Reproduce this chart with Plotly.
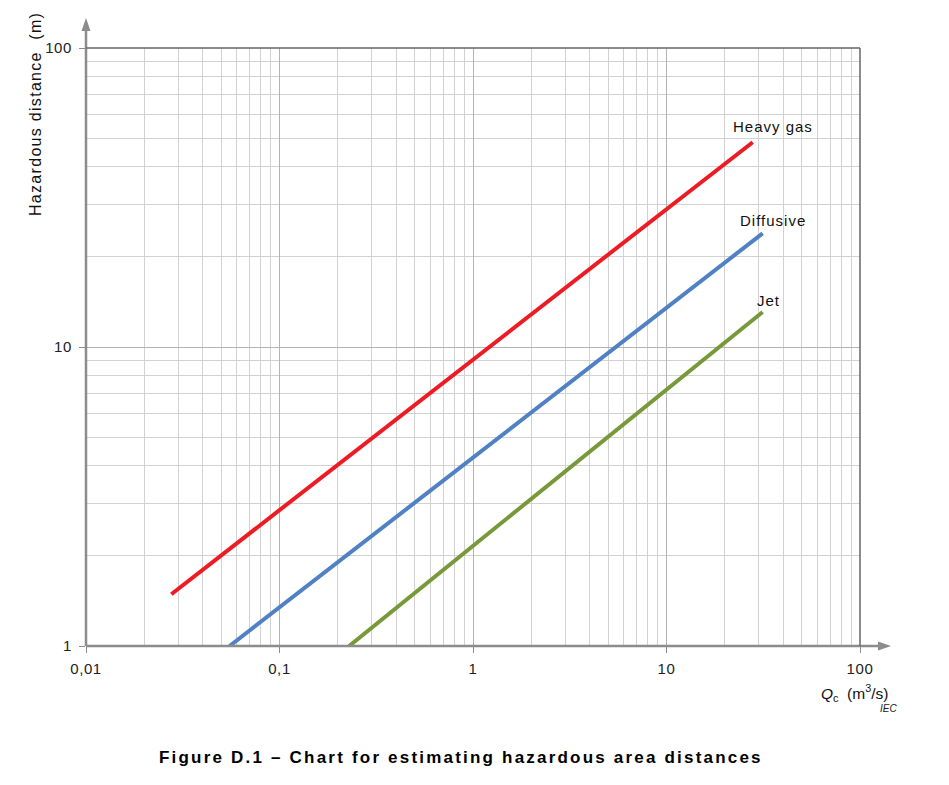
import math
import plotly.graph_objects as go

# ---- data ----
series_names = ["Heavy gas", "Diffusive", "Jet"]
heavy_q = [0.0276, 27.9]
heavy_d = [1.49, 48.4]
diff_q = [0.0552, 31.4]
diff_d = [1.0, 24.0]
jet_q = [0.229, 31.4]
jet_d = [1.0, 13.1]
colors = ["#ED1C24", "#4F81C4", "#77993A"]

x_tickvals = [0.01, 0.1, 1, 10, 100]
x_ticktext = ["0,01", "0,1", "1", "10", "100"]
y_tickvals = [1, 10, 100]
y_ticktext = ["1", "10", "100"]

def minor_vals(lo_exp, hi_exp):
    vals = []
    for e in range(lo_exp, hi_exp):
        for m in range(2, 10):
            vals.append(m * 10 ** e)
    return vals

def ls(text, sp):
    return f'<span style="letter-spacing:{sp}px">{text}</span>'

FONT = "Liberation Sans, Arial, sans-serif"

fig = go.Figure()
for name, xs, ys, c in zip(series_names, [heavy_q, diff_q, jet_q],
                           [heavy_d, diff_d, jet_d], colors):
    fig.add_trace(go.Scatter(x=xs, y=ys, mode="lines", name=name,
                             line=dict(color=c, width=4), showlegend=False,
                             cliponaxis=False))

# labels at line ends
label_shift = [(20, 16), (10, 13), (6, 11)]
for name, xs, ys, (dx, dy) in zip(series_names, [heavy_q, diff_q, jet_q],
                                  [heavy_d, diff_d, jet_d], label_shift):
    fig.add_annotation(x=math.log10(xs[-1]), y=math.log10(ys[-1]),
                       xref="x", yref="y", text=ls(name, 1), showarrow=False,
                       xanchor="center", yanchor="middle",
                       xshift=dx, yshift=dy,
                       font=dict(family=FONT, size=15, color="#111"))

W, H = 949, 785
ml, mr, mt, mb = 86, 89, 48, 139
pw, ph = W - ml - mr, H - mt - mb

def px(dx):
    return dx / pw

def py(dy):
    return dy / ph

axis_col = "#8c8c8c"
shapes = []
# x axis line + arrow
x_tip = px(891 - ml)
shapes.append(dict(type="line", xref="paper", yref="paper", x0=0, y0=0,
                   x1=x_tip - px(8), y1=0, line=dict(color=axis_col, width=2.5)))
shapes.append(dict(type="path", xref="paper", yref="paper",
                   path=f"M {x_tip} 0 L {x_tip - px(13)} {py(4.5)} L {x_tip - px(13)} {-py(4.5)} Z",
                   fillcolor=axis_col, line=dict(width=0)))
# y axis line + arrow
y_tip = py(646 - 18)
shapes.append(dict(type="line", xref="paper", yref="paper", x0=0, y0=0,
                   x1=0, y1=y_tip - py(8), line=dict(color=axis_col, width=2.5)))
shapes.append(dict(type="path", xref="paper", yref="paper",
                   path=f"M 0 {y_tip} L {px(4.5)} {y_tip - py(13)} L {-px(4.5)} {y_tip - py(13)} Z",
                   fillcolor=axis_col, line=dict(width=0)))
# top and right border
shapes.append(dict(type="line", xref="paper", yref="paper", x0=0, y0=1, x1=1, y1=1,
                   line=dict(color="#666", width=1.5)))
shapes.append(dict(type="line", xref="paper", yref="paper", x0=1, y0=0, x1=1, y1=1,
                   line=dict(color="#666", width=1.5)))

fig.add_annotation(xref="paper", yref="paper", x=px(35 - ml), y=py(646 - 114),
                   text=ls("Hazardous distance  (m)", 1.3), textangle=-90, showarrow=False,
                   xanchor="center", yanchor="middle",
                   font=dict(family=FONT, size=16, color="#111"))
fig.add_annotation(xref="paper", yref="paper", x=px(854 - ml), y=py(646 - 693),
                   text="<i>Q</i><sub>c</sub>  (m<sup>3</sup>/s)", showarrow=False,
                   xanchor="center", yanchor="middle",
                   font=dict(family=FONT, size=15.5, color="#111"))
fig.add_annotation(xref="paper", yref="paper", x=px(889 - ml), y=py(646 - 708),
                   text="<i>IEC</i>", showarrow=False,
                   xanchor="center", yanchor="middle",
                   font=dict(family=FONT, size=10, color="#222"))
fig.add_annotation(xref="paper", yref="paper", x=px(461 - ml), y=py(646 - 757),
                   text="<b>" + ls("Figure D.1 – Chart for estimating hazardous area distances", 2.2) + "</b>",
                   showarrow=False, xanchor="center", yanchor="middle",
                   font=dict(family=FONT, size=17, color="#000"))

tick_font = dict(family=FONT, size=15, color="#222")

fig.update_layout(
    width=W, height=H,
    margin=dict(l=ml, r=mr, t=mt, b=mb, pad=0),
    paper_bgcolor="white", plot_bgcolor="white",
    shapes=shapes,
    xaxis=dict(type="log", range=[-2, 2], tickmode="array",
               tickvals=x_tickvals, ticktext=[ls(t, 0.6) for t in x_ticktext],
               ticks="outside", ticklen=6, tickcolor=axis_col, tickwidth=1,
               ticklabelstandoff=3,
               showgrid=True, gridcolor="#b4b4b4", gridwidth=1,
               minor=dict(tickmode="array", tickvals=minor_vals(-2, 2),
                          showgrid=True, gridcolor="#d2d2d2", gridwidth=1, ticklen=0),
               showline=False, zeroline=False, tickfont=tick_font),
    yaxis=dict(type="log", range=[0, 2], tickmode="array",
               tickvals=y_tickvals, ticktext=[ls(t, 0.6) for t in y_ticktext],
               ticks="outside", ticklen=6, tickcolor=axis_col, tickwidth=1,
               ticklabelstandoff=4,
               showgrid=True, gridcolor="#b4b4b4", gridwidth=1,
               minor=dict(tickmode="array", tickvals=minor_vals(0, 2),
                          showgrid=True, gridcolor="#d2d2d2", gridwidth=1, ticklen=0),
               showline=False, zeroline=False, tickfont=tick_font),
)

fig.write_html("out.html")
